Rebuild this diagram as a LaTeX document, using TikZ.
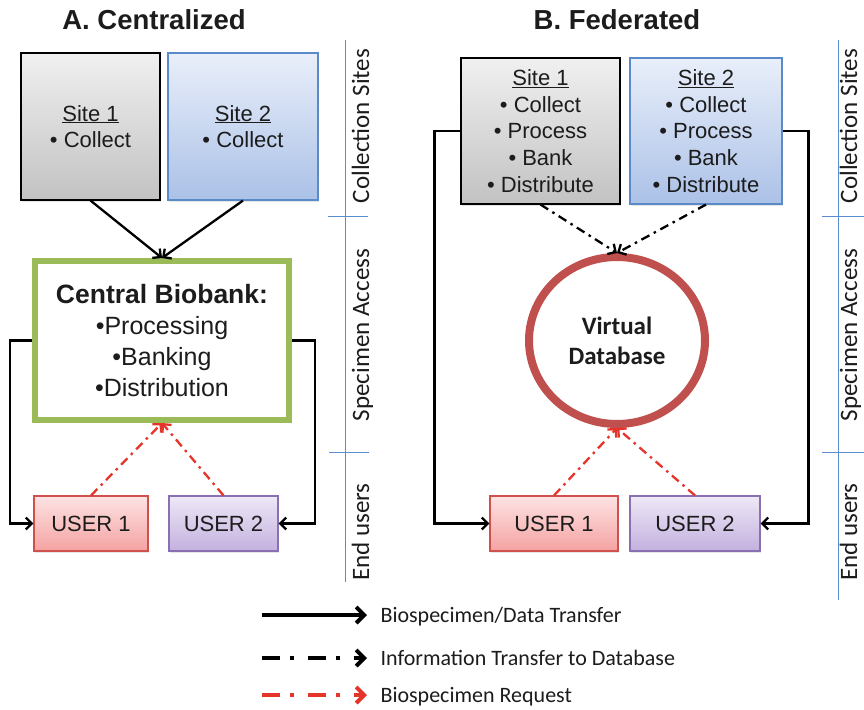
\documentclass[tikz,border=0pt]{standalone}
\usepackage{fontspec}
\setmainfont{Liberation Sans}
\newfontfamily\calib{Carlito}
\usetikzlibrary{arrows.meta,shapes.geometric,shadows}

\definecolor{txt}{HTML}{1C1C1C}
\definecolor{grayTop}{HTML}{F0F0F0}
\definecolor{grayBot}{HTML}{C2C2C2}
\definecolor{blueTop}{HTML}{E9EFFA}
\definecolor{blueBot}{HTML}{ABC1E7}
\definecolor{blueEdge}{HTML}{5A8AC8}
\definecolor{pinkTop}{HTML}{FDE3E3}
\definecolor{pinkBot}{HTML}{F5A2A2}
\definecolor{pinkEdge}{HTML}{D0504D}
\definecolor{purpTop}{HTML}{EEE8F6}
\definecolor{purpBot}{HTML}{C3B1DF}
\definecolor{purpEdge}{HTML}{8B6FB3}
\definecolor{bankGreen}{HTML}{9BBB59}
\definecolor{dbRed}{HTML}{C0504D}
\definecolor{reqRed}{HTML}{E5342A}
\definecolor{divBlue}{HTML}{5B8BD0}

\tikzset{
  boxbase/.style={rectangle, align=center, text=txt,
    drop shadow={shadow xshift=1pt, shadow yshift=-2pt, opacity=0.2}},
  sitegray/.style={boxbase, draw=black, line width=1.1pt,
    top color=grayTop, bottom color=grayBot,
    font=\fontsize{22}{26.7}\selectfont},
  siteblue/.style={boxbase, draw=blueEdge, line width=1.1pt,
    top color=blueTop, bottom color=blueBot,
    font=\fontsize{22}{26.7}\selectfont},
  userred/.style={boxbase, draw=pinkEdge, line width=1.1pt,
    top color=pinkTop, bottom color=pinkBot,
    minimum height=55pt, font=\fontsize{22}{26}\selectfont},
  userpurple/.style={boxbase, draw=purpEdge, line width=1.1pt,
    top color=purpTop, bottom color=purpBot,
    minimum height=55pt, font=\fontsize{22}{26}\selectfont},
  titletext/.style={font=\fontsize{27.5}{32}\selectfont\bfseries, text=txt, anchor=base},
  sidelabel/.style={font=\calib\fontsize{25}{30}\selectfont, text=txt,
    rotate=90, anchor=base},
  legendtext/.style={font=\calib\fontsize{22}{26}\selectfont, text=txt,
    anchor=base west},
  divline/.style={draw=divBlue, line width=0.9pt},
  solidarrow/.style={draw=black, line width=2.3pt,
    -{Straight Barb[length=6pt,width=12pt]}},
  infoarrow/.style={draw=black, line width=2.3pt,
    dash pattern=on 9pt off 5pt on 2.5pt off 5pt,
    -{Straight Barb[length=6pt,width=12pt]}},
  reqarrow/.style={draw=reqRed, line width=2.3pt,
    dash pattern=on 9pt off 5pt on 2.5pt off 5pt,
    -{Straight Barb[length=6pt,width=12pt]}},
  legsolid/.style={draw=black, line width=4pt,
    -{Straight Barb[length=8pt,width=16pt]}},
  leginfo/.style={draw=black, line width=4pt,
    dash pattern=on 18pt off 10pt on 4pt off 14pt,
    -{Straight Barb[length=8pt,width=16pt]}},
  legreq/.style={draw=reqRed, line width=4pt,
    dash pattern=on 18pt off 10pt on 4pt off 14pt,
    -{Straight Barb[length=8pt,width=16pt]}},
}

\begin{document}
\begin{tikzpicture}[x=1pt,y=-1pt]
\useasboundingbox (0,0) rectangle (864,709);

% ---------- headings ----------
\node[titletext] (ta) at (154,30) {A. Centralized};
\node[titletext] (tb) at (617,30) {B. Federated};

% ---------- tier dividers and labels ----------
\draw[divline] (345,40) -- (345,582);
\draw[divline] (328,216) -- (368,216);
\draw[divline] (329,452) -- (369,452);
\draw[divline] (838,40) -- (838,600);
\draw[divline] (822,216) -- (864,216);
\draw[divline] (822,452) -- (864,452);

\node[sidelabel] (lca) at (369,126) {Collection Sites};
\node[sidelabel] (lsa) at (369,335) {Specimen Access};
\node[sidelabel] (lea) at (369,532) {End users};
\node[sidelabel] (lcb) at (857,126) {Collection Sites};
\node[sidelabel] (lsb) at (857,335) {Specimen Access};
\node[sidelabel] (leb) at (857,532) {End users};

% ---------- A: centralized ----------
\node[sitegray, minimum width=139pt, minimum height=147pt] (a1) at (90.5,126.5)
  {\underline{Site 1}\\ \textbullet\ Collect};
\node[siteblue, minimum width=150pt, minimum height=147pt] (a2) at (243,126.5)
  {\underline{Site 2}\\ \textbullet\ Collect};

\node[rectangle, draw=bankGreen, line width=6pt, fill=white, align=center, text=txt,
      minimum width=254pt, minimum height=159pt,
      font=\fontsize{25}{31}\selectfont] (cb) at (162,340.5)
  {{\fontsize{26.5}{31}\selectfont\bfseries Central Biobank:}\\
   \textbullet Processing\\ \textbullet Banking\\ \textbullet Distribution};

\node[userred, minimum width=114pt] (au1) at (91,523.5) {USER 1};
\node[userpurple, minimum width=109pt] (au2) at (223.5,523.5) {USER 2};

\draw[solidarrow] (a1.south) -- (cb.north);
\draw[solidarrow] (a2.south) -- (cb.north);
\draw[solidarrow] (cb.west) -- ++(-22,0) |- (au1.west);
\draw[solidarrow] (cb.east) -- ++(23,0) |- (au2.east);
\draw[reqarrow] (au1.north) -- (cb.south);
\draw[reqarrow] (au2.north) -- (cb.south);

% ---------- B: federated ----------
\node[sitegray, minimum width=159pt, minimum height=146pt] (b1) at (540.5,131)
  {\underline{Site 1}\\ \textbullet\ Collect\\ \textbullet\ Process\\
   \textbullet\ Bank\\ \textbullet\ Distribute};
\node[siteblue, minimum width=152pt, minimum height=146pt] (b2) at (706,131)
  {\underline{Site 2}\\ \textbullet\ Collect\\ \textbullet\ Process\\
   \textbullet\ Bank\\ \textbullet\ Distribute};

\node[ellipse, draw=dbRed, line width=8pt, fill=white, align=center, text=txt,
      minimum width=176pt, minimum height=167pt, inner sep=0pt,
      font=\calib\bfseries\fontsize{25}{30}\selectfont] (vdb) at (617,340.5)
  {Virtual\\Database};

\node[userred, minimum width=128pt] (bu1) at (554,523.5) {USER 1};
\node[userpurple, minimum width=130pt] (bu2) at (695,523.5) {USER 2};

\draw[solidarrow] (b1.west) -- ++(-26,0) |- (bu1.west);
\draw[solidarrow] (b2.east) -- ++(26,0) |- (bu2.east);
\draw[infoarrow] (b1.south) -- (vdb.north);
\draw[infoarrow] (b2.south) -- (vdb.north);
\draw[reqarrow] (bu1.north) -- (vdb.south);
\draw[reqarrow] (bu2.north) -- (vdb.south);

% ---------- legend ----------
\coordinate (k1s) at (262,615); \coordinate (k1e) at (367,615);
\coordinate (k2s) at (262,658); \coordinate (k2e) at (367,658);
\coordinate (k3s) at (262,695); \coordinate (k3e) at (367,695);
\draw[legsolid] (k1s) -- (k1e);
\draw[leginfo] (k2s) -- (k2e);
\draw[legreq] (k3s) -- (k3e);
\node[legendtext] (kt1) at (377,622) {Biospecimen/Data Transfer};
\node[legendtext] (kt2) at (377,665) {Information Transfer to Database};
\node[legendtext] (kt3) at (377,702) {Biospecimen Request};
\end{tikzpicture}
\end{document}
